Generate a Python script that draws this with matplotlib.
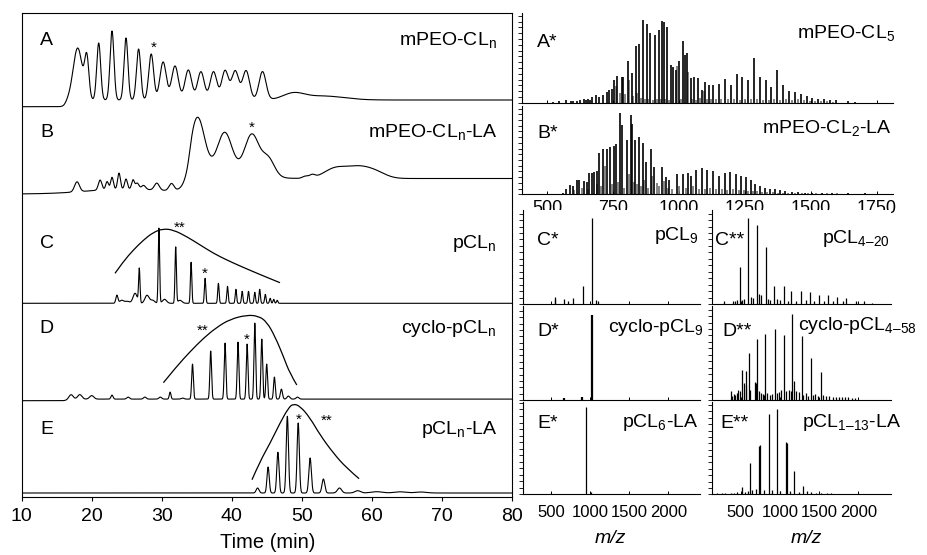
import numpy as np
import matplotlib
matplotlib.use("Agg")
import matplotlib.pyplot as plt
from matplotlib.ticker import MultipleLocator, FixedLocator, NullFormatter
from matplotlib.path import Path
from matplotlib.patches import PathPatch

plt.rcParams['font.family'] = ['Liberation Sans', 'DejaVu Sans']
plt.rcParams['mathtext.fontset'] = 'custom'
plt.rcParams['mathtext.rm'] = 'Liberation Sans'
plt.rcParams['mathtext.it'] = 'Liberation Sans:italic'

# ---- SEC traces: peak lists (time in min, height, width) ----
a_time = [18.0, 19.3, 21.0, 22.9, 24.9, 26.7, 28.5, 30.2, 31.9, 33.8, 35.6, 37.4, 39.05, 40.5, 42.05, 44.4, 48.8, 53.0]
a_height = [52, 40, 57, 69, 62, 51, 46, 38, 34, 30, 28.3, 28.3, 29.3, 29, 29.3, 28.3, 6, 4]
a_width = [0.65, 0.3, 0.28, 0.28, 0.28, 0.3, 0.35, 0.45, 0.48, 0.48, 0.48, 0.48, 0.48, 0.5, 0.5, 0.5, 1.5, 3.0]

b_time = [17.9, 21.2, 22.2, 22.9, 23.9, 24.9, 25.9, 26.5, 27.4, 29.3, 31.4, 25.0, 35.1, 39.0, 42.9, 39.0, 45.2, 50.5, 51.5, 54.8, 58.0, 60.5]
b_height = [10, 10, 8, 12, 16, 10, 9, 6, 4, 7, 7, 5, 55, 36, 38.6, 10, 18, 2, 3, 10, 10, 6]
b_width = [0.35, 0.25, 0.2, 0.2, 0.2, 0.2, 0.2, 0.25, 0.3, 0.35, 0.35, 5.5, 1.0, 1.0, 1.0, 3.5, 0.9, 0.4, 0.4, 1.6, 1.6, 1.5]

c_time = [23.6, 24.3, 25.1, 26.2, 26.8, 27.9, 28.7, 29.6, 30.4, 32.0, 32.6, 34.2, 36.2, 38.1, 39.4, 40.6, 41.5, 42.4, 43.3, 44.0, 44.8, 45.5, 46.0, 46.5]
c_height = [8, 3, 2, 10, 34, 8, 3, 75, 4, 56, 3, 41, 25, 20, 17, 14, 12, 12, 11, 14, 9, 5, 4, 3]
c_width = [0.15, 0.3, 0.3, 0.3, 0.1, 0.3, 0.3, 0.1, 0.3, 0.1, 0.3, 0.1, 0.1, 0.1, 0.1, 0.1, 0.1, 0.1, 0.1, 0.1, 0.1, 0.1, 0.1, 0.1]

d_time = [17.05, 18.3, 20.0, 22.9, 25.2, 27.6, 29.8, 31.2, 33.0, 34.4, 37.0, 39.05, 40.9, 42.2, 43.3, 44.3, 45.0, 46.1, 47.1, 48.1, 49.4]
d_height = [4.5, 4.5, 3.5, 4, 2, 2, 2, 7, 1, 35, 48, 56, 57, 55, 76, 60, 35, 22, 10, 3, 2]
d_width = [0.3, 0.3, 0.3, 0.15, 0.2, 0.2, 0.2, 0.12, 0.2, 0.12, 0.12, 0.12, 0.12, 0.12, 0.12, 0.12, 0.12, 0.12, 0.15, 0.2, 0.2]

e_time = [43.7, 45.2, 46.6, 47.95, 49.5, 51.2, 53.1, 55.4, 58.0, 60.7, 64.0, 67.0]
e_height = [5, 26, 40.7, 76.7, 70, 35, 14, 5, 2.3, 1.3, 1.2, 1.0]
e_width = [0.2, 0.16, 0.16, 0.16, 0.16, 0.18, 0.2, 0.3, 0.4, 0.8, 0.8, 0.8]

# baseline drift (position, height)
a_drift = (16.3, 6.7)
b_drift = (34.0, 15.5)
d_drift = (16.5, 1.6)

# envelopes drawn over C, D, E
env_c_t = [23.33, 24.5, 25.95, 27.4, 28.8, 30.2, 31.7, 33.6, 35.5, 37.4, 39.3, 41.2, 43.1, 45.0, 46.9]
env_c_h = [30, 41.6, 53.3, 63.3, 71, 74.6, 73.3, 66.6, 58.3, 50, 43.3, 37.3, 31.6, 26, 20.6]
env_d_t = [30.24, 32.1, 34.05, 35.95, 37.86, 39.76, 42.14, 43.8, 45.0, 46.2, 47.4, 48.3, 49.3]
env_d_h = [18, 34, 49, 62.4, 73.4, 81.4, 85.7, 84.7, 79, 64, 44, 27.4, 15.7]
env_e_t = [42.9, 44.05, 45.5, 46.9, 48.1, 48.8, 49.8, 51.2, 52.6, 54.5, 56.4, 58.2]
env_e_h = [13.3, 31.7, 50, 70, 85, 89.3, 86.7, 75, 58.3, 40, 25, 14.3]

# ---- MALDI spectra (m/z, relative intensity) ----
as_mz = [520, 545, 571, 590, 599, 612, 624, 639, 648, 656, 663, 671, 684, 697, 710, 725, 734, 744, 754, 766, 782, 789, 805, 820, 835, 848,
         862, 877, 890, 909, 923, 937, 943, 956, 968, 978, 987, 999, 1014, 1023, 1029, 1044, 1057, 1072, 1086, 1099, 1114, 1130, 1150,
         1174, 1197, 1219, 1240, 1263, 1286, 1307, 1329, 1351, 1373, 1396, 1418, 1440, 1463, 1484, 1506, 1528, 1550, 1573, 1594, 1642, 1667]
as_int = [.01, .015, .03, .02, .025, .015, .03, .05, .03, .04, .03, .07, .09, .065, .09, .13, .15, .17, .27, .32, .31, .31, .50, .36, .69, .71,
          1.0, .95, .84, .82, .88, .99, .98, .92, .46, .43, .40, .50, .75, .58, .60, .30, .31, .30, .15, .25, .21, .21, .23,
          .29, .21, .35, .31, .28, .54, .31, .28, .19, .39, .21, .14, .13, .11, .08, .06, .04, .05, .03, .03, .02, .012]
as_gray_mz = [760, 775, 796, 812, 826, 842, 855, 870, 884, 900, 915, 930, 948, 962, 994, 1007, 1036, 1050, 1065, 1080, 1093, 1107,
              1122, 1140, 1160, 1185, 1208, 1230, 1252, 1275, 1296, 1318, 1340, 1362, 1385, 1407, 1430, 1452, 1474, 1496, 1518, 1540, 1562, 1585]
as_gray_int = [.20, .12, .10, .28, .08, .12, .06, .05, .04, .03, .04, .05, .04, .03, .44, .05, .37, .05, .03, .06, .14, .04,
               .05, .05, .04, .05, .04, .03, .04, .05, .04, .03, .03, .04, .03, .05, .03, .04, .03, .02, .02, .02, .02, .01]

bs_mz = [558, 571, 586, 599, 611, 622, 639, 649, 660, 668, 677, 687, 697, 713, 725, 738, 753, 761, 776, 784, 804, 816, 821, 834, 847,
         862, 875, 892, 905, 934, 950, 963, 991, 1014, 1035, 1044, 1064, 1086, 1107, 1128, 1153, 1174, 1193, 1216, 1235, 1253, 1272,
         1288, 1307, 1326, 1345, 1364, 1383, 1402, 1427, 1453, 1478, 1503, 1541, 1579, 1642, 1706]
bs_int = [.02, .06, .11, .10, .17, .18, .16, .15, .26, .26, .27, .29, .51, .55, .55, .58, .59, .62, 1.0, .845, .67, .97, .865, .67, .70,
          .63, .40, .55, .33, .34, .21, .17, .245, .245, .26, .23, .30, .32, .30, .285, .22, .26, .27, .245, .23, .21, .17,
          .13, .10, .08, .07, .06, .05, .04, .03, .03, .02, .02, .015, .015, .01, .01]
bs_gray_mz = [600, 630, 655, 690, 705, 720, 745, 768, 792, 810, 828, 840, 855, 868, 884, 898, 915, 925, 942, 957, 975, 1000, 1025,
              1052, 1075, 1097, 1118, 1140, 1163, 1184, 1205, 1226, 1245, 1263, 1280, 1297, 1316, 1335, 1355, 1374, 1393, 1415,
              1440, 1465, 1490, 1520, 1560, 1600]
bs_gray_int = [.05, .08, .06, .12, .10, .35, .12, .15, .08, .25, .15, .12, .10, .18, .08, .22, .14, .10, .16, .08, .06, .10, .08,
               .10, .07, .06, .08, .06, .07, .05, .06, .05, .05, .04, .04, .04, .03, .03, .03, .02, .02, .02,
               .02, .02, .01, .01, .01, .01]

c1_mz = [551, 556, 673, 724, 788, 907, 1030, 1081, 1098]
c1_int = [.078, .06, .058, .03, .066, .21, 1.0, .05, .04]
c2_mz = [290, 400, 430, 455, 487, 520, 545, 592, 630, 660, 710, 735, 760, 819, 850, 880, 929, 960, 1000, 1046, 1100, 1143, 1200,
         1265, 1330, 1383, 1440, 1500, 1560, 1614, 1680, 1727, 1800, 1845, 1970, 2070, 2170]
c2_int = [.04, .03, .04, .05, .43, .05, .06, 1.0, .08, .07, .92, .12, .10, .66, .06, .05, .21, .06, .05, .21, .04, .155, .04,
          .155, .05, .14, .04, .105, .03, .11, .03, .08, .03, .075, .04, .04, .015]

d1_mz = [673, 900, 1030]
d1_int = [.02, .03, 1.0]
d2_mz = [374, 390, 410, 430, 450, 470, 490, 521, 540, 563, 572, 605, 620, 677, 690, 710, 730, 755, 780, 800, 815, 840, 870, 900,
         937, 960, 990, 1013, 1055, 1080, 1110, 1140, 1160, 1177, 1210, 1240, 1278, 1300, 1330, 1360, 1395, 1420, 1450, 1480, 1517,
         1550, 1590, 1630, 1670, 1710, 1750, 1790, 1830, 1870, 1920, 1960]
d2_int = [.10, .05, .07, .06, .08, .12, .10, .35, .20, .18, .34, .545, .12, .21, .20, .71, .10, .08, .07, .06, .765, .08, .06, .07,
          .83, .08, .09, .12, .75, .10, .12, .10, 1.0, .22, .11, .09, .74, .06, .08, .05, .49, .06, .07, .05, .33,
          .06, .05, .05, .04, .04, .04, .03, .03, .03, .02, .02]

e1_mz = [946, 1018]
e1_int = [1.0, .03]
e2_mz = [200, 260, 300, 380, 420, 460, 521, 560, 600, 626, 650, 700, 735, 745, 800, 857, 900, 963, 1000, 1080, 1090, 1130, 1185,
         1240, 1298, 1350, 1400, 1460, 1520, 1600, 1650]
e2_int = [.01, .02, .015, .02, .015, .03, .09, .03, .04, .365, .05, .06, .57, .58, .05, .95, .05, 1.0, .04, .62, .60, .04, .28,
          .03, .10, .04, .03, .02, .02, .015, .01]

time_ticks = [10, 20, 30, 40, 50, 60, 70, 80]
mz_ticks_top = [500, 750, 1000, 1250, 1500, 1750]
mz_ticks_bottom = [500, 1000, 1500, 2000]


def gauss_sum(t, centers, heights, widths):
    y = np.zeros_like(t)
    for c, h, w in zip(centers, heights, widths):
        y += h * np.exp(-0.5 * ((t - c) / w) ** 2)
    return y


def drift(t, pos, h, w=0.4):
    return h * 0.5 * (1 + np.tanh((t - pos) / w))


def smooth_curve(ax, xs, ys, offset):
    # quadratic bezier through midpoints
    pts = [(x, y + offset) for x, y in zip(xs, ys)]
    verts = [pts[0]]
    codes = [Path.MOVETO]
    for i in range(1, len(pts) - 1):
        mid = ((pts[i][0] + pts[i + 1][0]) / 2, (pts[i][1] + pts[i + 1][1]) / 2)
        if i == len(pts) - 2:
            mid = pts[-1]
        verts += [pts[i], mid]
        codes += [Path.CURVE3, Path.CURVE3]
    ax.add_patch(PathPatch(Path(verts, codes), fill=False, lw=0.9, color='black'))


W, H = 928, 555
fig = plt.figure(figsize=(W / 100, H / 100), dpi=100)


def box(l, t, r, b):
    return [l / W, 1 - b / H, (r - l) / W, (b - t) / H]


LABEL_FS = 14

# ---- LEFT: SEC chromatograms ----
ax = fig.add_axes(box(21.7, 12.7, 511.7, 496.5))
t = np.linspace(10, 80, 7001)
offs = {'A': 389.8, 'B': 302.5, 'C': 193.2, 'D': 95.8, 'E': 3.5}
ya = gauss_sum(t, a_time, a_height, a_width) + drift(t, *a_drift)
yb = gauss_sum(t, b_time, b_height, b_width) + drift(t, *b_drift)
yc = gauss_sum(t, c_time, c_height, c_width)
yd = gauss_sum(t, d_time, d_height, d_width) + drift(t, *d_drift)
ye = gauss_sum(t, e_time, e_height, e_width)
for key, y in zip('ABCDE', [ya, yb, yc, yd, ye]):
    ax.plot(t, y + offs[key], color='black', lw=0.8)

smooth_curve(ax, env_c_t, env_c_h, offs['C'])
smooth_curve(ax, env_d_t, env_d_h, offs['D'])
smooth_curve(ax, env_e_t, env_e_h, offs['E'])

ax.set_xlim(10, 80)
ax.set_ylim(0, 483.8)
ax.set_yticks([])
ax.xaxis.set_major_locator(FixedLocator(time_ticks))
ax.tick_params(axis='x', direction='out', length=3, width=0.8, pad=5, labelsize=14)
for s in ax.spines.values():
    s.set_linewidth(0.8)

# panel labels (baseline positions)
left_labels = [('A', 451.5, r'mPEO-CL$_\mathregular{n}$'),
               ('B', 359.2, r'mPEO-CL$_\mathregular{n}$-LA'),
               ('C', 248.2, r'pCL$_\mathregular{n}$'),
               ('D', 163.8, r'cyclo-pCL$_\mathregular{n}$'),
               ('E', 62.2, r'pCL$_\mathregular{n}$-LA')]
for letter, yb_, name in left_labels:
    ax.text(13.6, yb_, letter, ha='center', va='baseline', fontsize=LABEL_FS)
    ax.text(77.9, yb_, name, ha='right', va='baseline', fontsize=LABEL_FS)

stars = [(28.8, 445.1, '*'), (42.86, 365.1, '*'), (32.6, 264.5, '**'), (36.2, 218.8, '*'),
         (35.8, 161.8, '**'), (42.1, 152.8, '*'), (49.6, 72.8, '*'), (53.5, 71.8, '**')]
for x, y, s in stars:
    ax.text(x, y, s, ha='center', va='baseline', fontsize=11)

fig.text(268 / W, 1 - 548.5 / H, 'Time (min)', ha='center', va='baseline', fontsize=14.5)


# ---- RIGHT: MALDI spectra ----
def spectrum(rect, sticks, xlim, ylim_top, ticks, labels, ystep, pad, lw=0.9, tick_fs=13):
    sx = fig.add_axes(rect)
    for mz, inten, col in sticks:
        sx.vlines(mz, 0, inten, color=col, lw=lw)
    sx.set_xlim(*xlim)
    sx.set_ylim(0, ylim_top)
    sx.spines['top'].set_visible(False)
    sx.spines['right'].set_visible(False)
    sx.spines['left'].set_linewidth(0.8)
    sx.spines['bottom'].set_linewidth(0.8)
    sx.xaxis.set_major_locator(FixedLocator(ticks))
    if not labels:
        sx.xaxis.set_major_formatter(NullFormatter())
    sx.tick_params(axis='x', direction='in', length=2.5, width=0.7, pad=pad, labelsize=tick_fs)
    sx.yaxis.set_major_locator(MultipleLocator(ystep))
    sx.yaxis.set_major_formatter(NullFormatter())
    sx.tick_params(axis='y', direction='out', length=3, width=0.6)
    return sx


top_xlim = (403, 1811)
bot_xlim = (140, 2410)
gray = '#6e6e6e'

ax_a = spectrum(box(521.7, 13.3, 892.7, 102.7), [(as_gray_mz, as_gray_int, gray), (as_mz, as_int, 'black')],
                top_xlim, 1.081, mz_ticks_top, False, 0.07, 4, lw=1.2)
ax_b = spectrum(box(521.7, 106, 892.7, 194.3), [(bs_gray_mz, bs_gray_int, gray), (bs_mz, bs_int, 'black')],
                top_xlim, 1.081, mz_ticks_top, True, 0.07, 4, lw=1.2)
ax_c1 = spectrum(box(522.7, 210, 700.5, 304), [(c1_mz, c1_int, 'black')], bot_xlim, 1.093, mz_ticks_bottom, False, 0.075, 8)
ax_d1 = spectrum(box(522.7, 306, 700.5, 400), [(d1_mz, d1_int, 'black')], bot_xlim, 1.106, mz_ticks_bottom, False, 0.075, 8, lw=1.6)
ax_e1 = spectrum(box(522.7, 402, 700.5, 494.3), [(e1_mz, e1_int, 'black')], bot_xlim, 1.061, mz_ticks_bottom, True, 0.075, 8,
                 tick_fs=12)
ax_c2 = spectrum(box(712.3, 210, 890.7, 304), [(c2_mz, c2_int, 'black')], bot_xlim, 1.093, mz_ticks_bottom, False, 0.075, 8)
ax_d2 = spectrum(box(712.3, 306, 890.7, 400), [(d2_mz, d2_int, 'black')], bot_xlim, 1.093, mz_ticks_bottom, False, 0.075, 8)
ax_e2 = spectrum(box(712.3, 402, 890.7, 494.3), [(e2_mz, e2_int, 'black')], bot_xlim, 1.086, mz_ticks_bottom, True, 0.075, 8,
                 tick_fs=12)

right_labels = [
    (ax_a, 0.040, 0.626, 'A*', 1.006, 0.72, r'mPEO-CL$_\mathregular{5}$', 'right'),
    (ax_b, 0.042, 0.634, 'B*', 0.997, 0.69, r'mPEO-CL$_\mathregular{2}$-LA', 'right'),
    (ax_c1, 0.082, 0.628, 'C*', 0.993, 0.68, r'pCL$_\mathregular{9}$', 'right'),
    (ax_d1, 0.082, 0.68, 'D*', 1.02, 0.727, r'cyclo-pCL$_\mathregular{9}$', 'right'),
    (ax_e1, 0.084, 0.715, 'E*', 0.99, 0.732, r'pCL$_\mathregular{6}$-LA', 'right'),
    (ax_c2, 0.015, 0.628, 'C**', 0.996, 0.65, r'pCL$_\mathregular{4–20}$', 'right'),
    (ax_d2, 0.056, 0.68, 'D**', 0.482, 0.745, r'cyclo-pCL$_\mathregular{4–58}$', 'left'),
    (ax_e2, 0.043, 0.715, 'E**', 0.503, 0.732, r'pCL$_\mathregular{1–13}$-LA', 'left'),
]
for sx, lx, ly, lab, nx, ny, name, ha in right_labels:
    sx.text(lx, ly, lab, transform=sx.transAxes, ha='left', va='baseline', fontsize=LABEL_FS)
    sx.text(nx, ny, name, transform=sx.transAxes, ha=ha, va='baseline', fontsize=LABEL_FS, clip_on=False)

fig.text(610 / W, 1 - 543.3 / H, 'm/z', ha='center', va='baseline', fontsize=14, style='italic')
fig.text(806.7 / W, 1 - 543.3 / H, 'm/z', ha='center', va='baseline', fontsize=14, style='italic')

fig.savefig('out.png', dpi=100)
